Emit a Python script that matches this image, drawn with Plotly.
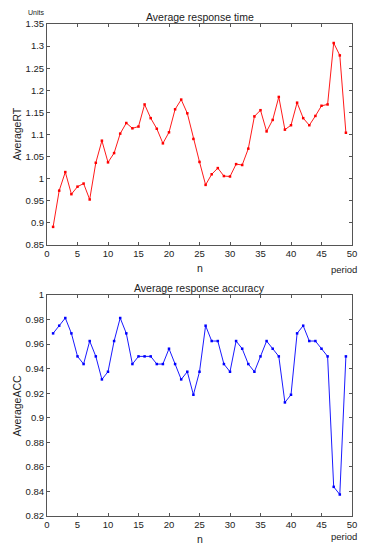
import plotly.graph_objects as go

n = list(range(1, 50))
avg_rt = [0.891, 0.973, 1.015, 0.965, 0.982, 0.989, 0.953, 1.036, 1.086, 1.037,
          1.058, 1.102, 1.126, 1.114, 1.118, 1.168, 1.137, 1.113, 1.080, 1.105,
          1.157, 1.179, 1.148, 1.090, 1.038, 0.986, 1.010, 1.024, 1.006, 1.005,
          1.033, 1.031, 1.068, 1.141, 1.155, 1.107, 1.133, 1.185, 1.111, 1.121,
          1.172, 1.137, 1.121, 1.142, 1.165, 1.168, 1.307, 1.279, 1.104]
avg_acc = [0.96875, 0.975, 0.98125, 0.96875, 0.95, 0.94375, 0.9625, 0.95, 0.93125, 0.9375,
           0.9625, 0.98125, 0.96875, 0.94375, 0.95, 0.95, 0.95, 0.94375, 0.94375, 0.95625,
           0.94375, 0.93125, 0.9375, 0.91875, 0.9375, 0.975, 0.9625, 0.9625, 0.94375, 0.9375,
           0.9625, 0.95625, 0.94375, 0.9375, 0.95, 0.9625, 0.95625, 0.95, 0.9125, 0.91875,
           0.96875, 0.975, 0.9625, 0.9625, 0.95625, 0.95, 0.84375, 0.8375, 0.95]
rt_ticks = [0.85, 0.9, 0.95, 1, 1.05, 1.1, 1.15, 1.2, 1.25, 1.3, 1.35]
rt_labels = ["0.85", "0.9", "0.95", "1", "1.05", "1.1", "1.15", "1.2", "1.25", "1.3", "1.35"]
acc_ticks = [0.82, 0.84, 0.86, 0.88, 0.9, 0.92, 0.94, 0.96, 0.98, 1]
acc_labels = ["0.82", "0.84", "0.86", "0.88", "0.9", "0.92", "0.94", "0.96", "0.98", "1"]
x_ticks = [0, 5, 10, 15, 20, 25, 30, 35, 40, 45, 50]

FONT = "Liberation Sans, Arial, sans-serif"
fig = go.Figure()
fig.add_trace(go.Scatter(x=n, y=avg_rt, mode="lines+markers", xaxis="x", yaxis="y",
                         line=dict(color="#ff1a1a", width=1),
                         marker=dict(color="#ff0000", size=2.5, symbol="square")))
fig.add_trace(go.Scatter(x=n, y=avg_acc, mode="lines+markers", xaxis="x2", yaxis="y2",
                         line=dict(color="#1a1aff", width=1),
                         marker=dict(color="#0000ff", size=2.5, symbol="square")))

axcommon = dict(showline=True, linecolor="#555555", linewidth=1, mirror="ticks",
                ticks="inside", ticklen=3, tickcolor="#555555", showgrid=False,
                zeroline=False, automargin=False,
                tickfont=dict(size=9.5, color="#222222", family=FONT))
TOP = [0.5508, 1]
BOT = [0, 0.4492]
fig.update_layout(
    width=365, height=540, plot_bgcolor="white", paper_bgcolor="white",
    showlegend=False, margin=dict(l=39, r=21, t=16, b=32, autoexpand=False),
    font=dict(family=FONT, color="#222222"),
    xaxis=dict(domain=[0, 1], anchor="y", range=[0, 50], tickvals=x_ticks,
               ticktext=[str(v) for v in x_ticks], **axcommon),
    yaxis=dict(domain=TOP, anchor="x", range=[0.85, 1.35], tickvals=rt_ticks,
               ticktext=rt_labels, **axcommon),
    xaxis2=dict(domain=[0, 1], anchor="y2", range=[0, 50], tickvals=x_ticks,
                ticktext=[str(v) for v in x_ticks], **axcommon),
    yaxis2=dict(domain=BOT, anchor="x2", range=[0.82, 1], tickvals=acc_ticks,
                ticktext=acc_labels, **axcommon),
)

ytx = -30 / 305
ann = [
    dict(text="Average response time", x=0.5, y=1, xref="paper", yref="paper",
         xanchor="center", yanchor="bottom", yshift=-1, font=dict(size=10.5)),
    dict(text="Units", x=-0.069, y=1, xref="paper", yref="paper",
         xanchor="left", yanchor="bottom", yshift=6, font=dict(size=7)),
    dict(text="AverageRT", x=ytx, y=sum(TOP) / 2, xref="paper", yref="paper",
         xanchor="center", yanchor="middle", textangle=-90, font=dict(size=10.5)),
    dict(text="n", x=0.5, y=TOP[0], xref="paper", yref="paper",
         xanchor="center", yanchor="top", yshift=-15, font=dict(size=10.5)),
    dict(text="period", x=1.023, y=TOP[0], xref="paper", yref="paper",
         xanchor="right", yanchor="top", yshift=-17, font=dict(size=9.5)),
    dict(text="Average response accuracy", x=0.5, y=BOT[1], xref="paper", yref="paper",
         xanchor="center", yanchor="bottom", yshift=-1, font=dict(size=10.5)),
    dict(text="AverageACC", x=ytx, y=sum(BOT) / 2, xref="paper", yref="paper",
         xanchor="center", yanchor="middle", textangle=-90, font=dict(size=10.5)),
    dict(text="n", x=0.5, y=0, xref="paper", yref="paper",
         xanchor="center", yanchor="top", yshift=-15, font=dict(size=10.5)),
    dict(text="period", x=1.023, y=0, xref="paper", yref="paper",
         xanchor="right", yanchor="top", yshift=-13, font=dict(size=9.5)),
]
for a in ann:
    a["showarrow"] = False
    fig.add_annotation(**a)

fig.write_html("out.html")
